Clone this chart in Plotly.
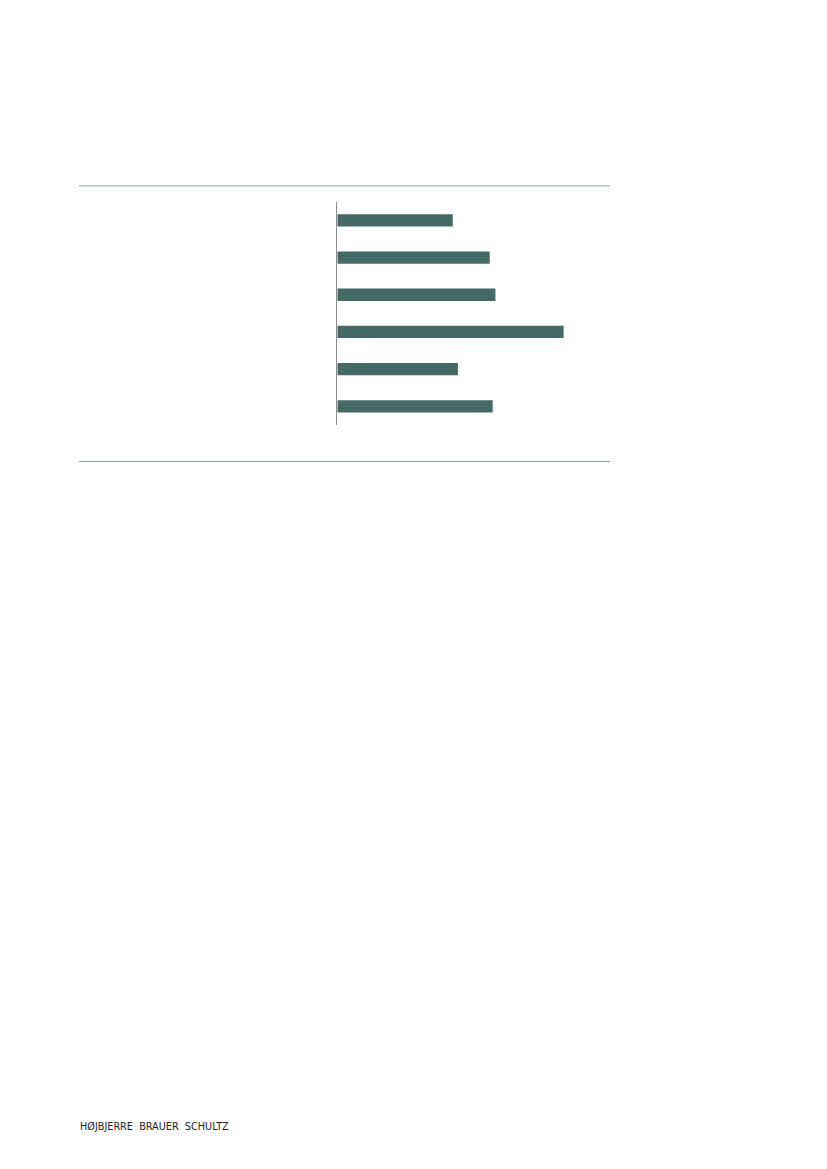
import plotly.graph_objects as go

categories = ["A", "B", "C", "D", "E", "F"]
values = [42.5, 56.1, 58.2, 83.3, 44.4, 57.2]
footer_text = "HØJBJERRE  BRAUER  SCHULTZ"

# page offset of the figure inside the browser window (body margin)
OFF = 8
W, H = 827 - 2 * OFF, 1169 - 2 * OFF


def fx(px):
    return (px - OFF) / W


def fy(py):
    return 1 - (py - OFF) / H


fig = go.Figure(
    go.Bar(
        y=categories,
        x=values,
        orientation="h",
        marker=dict(color="#456a66", line=dict(width=0)),
        width=0.33,
        hoverinfo="skip",
    )
)

fig.update_layout(
    width=W,
    height=H,
    margin=dict(l=0, r=0, t=0, b=0),
    paper_bgcolor="white",
    plot_bgcolor="white",
    showlegend=False,
    xaxis=dict(
        domain=[fx(337.3), fx(609)],
        range=[0, 100],
        visible=False,
        fixedrange=True,
    ),
    yaxis=dict(
        domain=[fy(425), fy(201.7)],
        autorange="reversed",
        showline=True,
        linecolor="#8c8c8c",
        linewidth=1.2,
        showticklabels=False,
        ticks="",
        showgrid=False,
        zeroline=False,
        fixedrange=True,
    ),
    shapes=[
        dict(type="line", xref="paper", yref="paper",
             x0=fx(79), x1=fx(610), y0=fy(185.7), y1=fy(185.7),
             line=dict(color="#b3c3c1", width=1.5)),
        dict(type="line", xref="paper", yref="paper",
             x0=fx(79), x1=fx(610), y0=fy(461.5), y1=fy(461.5),
             line=dict(color="#8fa2a1", width=1.2)),
    ],
    annotations=[
        dict(text=footer_text, xref="paper", yref="paper",
             x=fx(78), y=fy(1126), xanchor="left", yanchor="middle",
             showarrow=False,
             font=dict(family="DejaVu Sans", size=9.7, color="#222222")),
    ],
)

fig.write_html("out.html")
